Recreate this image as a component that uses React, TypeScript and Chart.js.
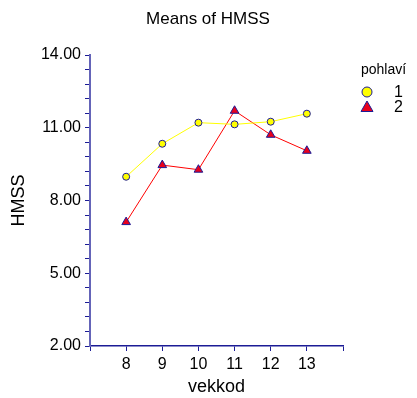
import React, { useEffect, useRef } from "react";
import { Chart, registerables } from "chart.js";

Chart.register(...registerables);

const vekkod = [8, 9, 10, 11, 12, 13];
const series1 = [8.98, 10.34, 11.21, 11.14, 11.25, 11.58];
const series2 = [7.11, 9.46, 9.27, 11.7, 10.71, 10.05];
const seriesLabels = ["1", "2"];
const yMajorTicks = [2, 5, 8, 11, 14];

const FONT = "'Liberation Sans', Arial, sans-serif";
const NAVY = "#1c1c96";

const overlayPlugin = {
  id: "overlay",
  afterDraw(chart: any) {
    const ctx = chart.ctx;
    ctx.save();
    ctx.fillStyle = "#000";
    ctx.textBaseline = "middle";
    ctx.textAlign = "center";
    ctx.font = `17px ${FONT}`;
    ctx.fillText("Means of HMSS", 208, 19);
    // legend
    ctx.textAlign = "left";
    ctx.font = `14px ${FONT}`;
    ctx.fillText("pohlaví", 361, 70);
    chart.data.datasets.forEach((ds: any, i: number) => {
      const y = 92 + i * 15;
      const x = 367;
      ctx.fillStyle = ds.pointBackgroundColor;
      ctx.strokeStyle = ds.pointBorderColor;
      ctx.lineWidth = 1;
      ctx.beginPath();
      if (ds.pointStyle === "triangle") {
        ctx.moveTo(x, y - 6);
        ctx.lineTo(x + 6, y + 4.5);
        ctx.lineTo(x - 6, y + 4.5);
        ctx.closePath();
      } else {
        ctx.arc(x, y, 5, 0, Math.PI * 2);
      }
      ctx.fill();
      ctx.stroke();
      ctx.fillStyle = "#000";
      ctx.font = `16px ${FONT}`;
      ctx.fillText(ds.label, 394, y + 1);
    });
    ctx.restore();
  },
};

export default function App() {
  const ref = useRef<HTMLCanvasElement>(null);
  useEffect(() => {
    const chart = new Chart(ref.current!, {
      type: "line",
      data: {
        datasets: [
          {
            label: seriesLabels[0],
            data: vekkod.map((x, i) => ({ x, y: series1[i] })),
            borderColor: "#ffff00",
            borderWidth: 1,
            pointStyle: "circle",
            pointRadius: 3.5,
            pointBackgroundColor: "#ffff00",
            pointBorderColor: NAVY,
            pointBorderWidth: 1,
          },
          {
            label: seriesLabels[1],
            data: vekkod.map((x, i) => ({ x, y: series2[i] })),
            borderColor: "#ff0000",
            borderWidth: 1,
            pointStyle: "triangle",
            pointRadius: 5,
            pointBackgroundColor: "#e8001c",
            pointBorderColor: NAVY,
            pointBorderWidth: 1,
          },
        ] as any,
      },
      options: {
        animation: false,
        responsive: false,
        layout: { padding: { top: 55, right: 74, left: 0, bottom: 0 } },
        plugins: { legend: { display: false }, tooltip: { enabled: false }, title: { display: false } },
        scales: {
          x: {
            type: "linear",
            min: 7,
            max: 14,
            afterFit: (s: any) => {
              s.height = 52;
            },
            border: { color: NAVY, width: 1.5 },
            grid: { drawOnChartArea: false, drawTicks: true, tickLength: 5, color: NAVY },
            ticks: {
              stepSize: 1,
              color: "#000",
              font: { family: FONT, size: 16 },
              padding: 4,
              callback: (v: any) => (v >= 8 && v <= 13 ? String(v) : ""),
            },
            title: {
              display: true,
              text: "vekkod",
              color: "#000",
              font: { family: FONT, size: 18 },
              padding: { top: 0, bottom: 0 },
            },
          },
          y: {
            type: "linear",
            min: 2,
            max: 14,
            afterFit: (s: any) => {
              s.width = 90;
            },
            border: { color: "#6464b8", width: 2 },
            grid: { drawOnChartArea: false, drawTicks: true, tickLength: 5, color: NAVY },
            ticks: {
              stepSize: 0.6,
              color: "#000",
              font: { family: FONT, size: 16 },
              padding: 4,
              autoSkip: false,
              callback: (v: any) => {
                const m = yMajorTicks.find((t) => Math.abs(t - v) < 1e-6);
                return m !== undefined ? m.toFixed(2) : "";
              },
            },
            title: {
              display: true,
              text: "HMSS",
              color: "#000",
              font: { family: FONT, size: 18 },
              padding: { top: 8, bottom: 0 },
            },
          },
        },
      },
      plugins: [overlayPlugin],
    } as any);
    return () => chart.destroy();
  }, []);
  return (
    <div style={{ position: "fixed", left: 0, top: 0, width: 417, height: 398, background: "#fff" }}>
      <canvas ref={ref} width={417} height={398} />
    </div>
  );
}
